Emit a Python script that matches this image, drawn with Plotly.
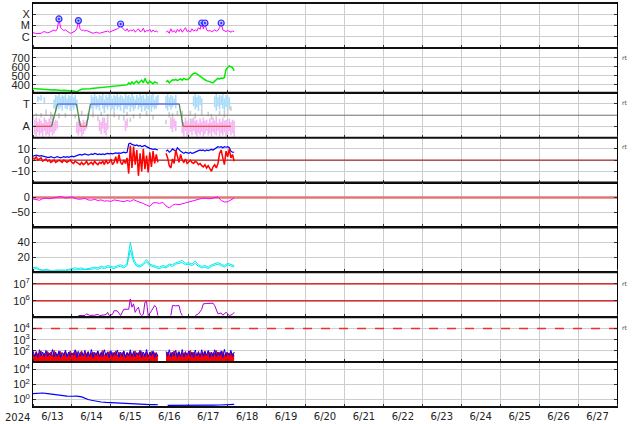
import plotly.graph_objects as go
from plotly.subplots import make_subplots
import pandas as pd

# ---------------- data (hours after 2024-06-13 00:00) ----------------
T0 = pd.Timestamp("2024-06-13 00:00")
YEAR_LABEL = "2024"
DAY_LABELS = ["6/13", "6/14", "6/15", "6/16", "6/17", "6/18", "6/19", "6/20",
              "6/21", "6/22", "6/23", "6/24", "6/25", "6/26", "6/27"]

# X-ray flux, log10 W/m2 (hourly), two segments
xray_log_a = [-5.64, -5.70, -5.73, -5.72, -5.74, -5.70, -5.60, -5.55, -5.60, -5.66,
              -5.62, -5.55, -5.45, -5.40, -5.50, -5.30, -4.42, -5.20, -5.35, -5.45,
              -5.40, -5.50, -5.60, -5.70, -5.65, -5.60, -5.50, -5.30, -4.57, -5.30,
              -5.45, -5.40, -5.50, -5.45, -5.50, -5.55, -5.60, -5.70, -5.65, -5.60,
              -5.65, -5.70, -5.65, -5.60, -5.60, -5.55, -5.50, -5.60, -5.55, -5.50,
              -5.45, -5.40, -5.30, -5.20, -4.87, -5.20, -5.35, -5.50, -5.30, -5.55,
              -5.40, -5.50, -5.35, -5.60, -5.45, -5.30, -5.55, -5.50, -5.25, -5.60,
              -5.45, -5.50, -5.35, -5.60, -5.40, -5.55, -5.50, -5.60]
xray_log_b = [-5.60, -5.50, -5.70, -5.30, -5.60, -5.45, -5.65, -5.35,
              -5.55, -5.30, -5.60, -5.40, -5.20, -5.55, -5.45, -5.60, -5.30, -5.50,
              -5.40, -5.50, -5.20, -5.35, -4.78, -5.30, -4.78, -5.40, -5.50, -5.45,
              -5.55, -5.50, -5.40, -5.50, -5.45, -5.20, -4.78, -5.40, -5.50, -5.55,
              -5.45, -5.50, -5.60, -5.50, -5.55]
flare_hours = [16, 28, 54, 104, 106, 116]
flare_log = [-4.42, -4.57, -4.87, -4.78, -4.78, -4.78]

# solar wind speed km/s (hourly)
speed_a = [358, 356, 355, 352, 350, 348, 347, 346, 345, 344,
           343, 342, 341, 343, 340, 338, 339, 337, 336, 338,
           335, 334, 333, 332, 330, 331, 325, 318, 335, 345,
           350, 352, 355, 354, 357, 356, 358, 360, 362, 360,
           365, 368, 370, 372, 375, 373, 378, 380, 382, 380,
           385, 388, 386, 390, 388, 392, 395, 393, 398, 420,
           405, 430, 410, 425, 440, 415, 430, 450, 420, 470,
           430, 415, 440, 425, 410, 430, 420, 415]
speed_b = [430, 445, 420, 440, 455, 450, 460, 445, 455, 465,
           450, 470, 460, 455, 465, 490, 510, 525, 530, 520,
           505, 490, 480, 465, 455, 445, 440, 430, 425, 420,
           440, 460, 470, 465, 475, 470, 480, 570, 595, 610,
           600, 590, 555]

# sector polarity (T=+0.5, A=-0.5)
sector_hours = [0, 11.4, 15.1, 26.8, 29.2, 32.9, 35.4, 90.1, 92.6, 122]
sector_vals = [-0.5, -0.5, 0.5, 0.5, -0.5, -0.5, 0.5, 0.5, -0.5, -0.5]
# scatter clouds as (hour, low, high)
toward_streaks = [(3, 0.60, 0.85), (4, 0.70, 0.80), (5, 0.65, 0.90), (7, 0.55, 0.80),
                  (13, 0.30, 0.70), (14, 0.20, 0.90), (15, 0.40, 0.85), (16, 0.25, 0.95),
                  (17, 0.35, 0.80), (18, 0.20, 0.90), (19, 0.45, 0.85), (20, 0.30, 0.95),
                  (21, 0.25, 0.75), (22, 0.40, 0.90), (23, 0.20, 0.85), (24, 0.35, 0.95),
                  (25, 0.25, 0.80), (26, 0.40, 0.90), (27, 0.30, 0.70),
                  (36, 0.30, 0.90), (37, 0.15, 0.80), (38, 0.40, 0.95), (39, 0.25, 0.85),
                  (40, 0.35, 0.75), (41, 0.20, 0.90), (42, 0.45, 0.85), (43, 0.30, 0.95),
                  (44, 0.10, 0.70), (45, 0.35, 0.90), (46, 0.25, 0.80), (47, 0.40, 0.95),
                  (48, 0.20, 0.85), (49, 0.30, 0.75), (50, 0.15, 0.90), (51, 0.40, 0.85),
                  (52, 0.25, 0.95), (53, 0.35, 0.80), (54, 0.20, 0.90), (55, 0.45, 0.85),
                  (56, 0.10, 0.75), (57, 0.30, 0.95), (58, 0.25, 0.85), (59, 0.40, 0.90),
                  (60, 0.15, 0.80), (61, 0.35, 0.95), (62, 0.20, 0.85), (63, 0.30, 0.70),
                  (64, 0.45, 0.90), (65, 0.25, 0.80), (66, 0.35, 0.95), (67, 0.15, 0.85),
                  (68, 0.40, 0.90), (69, 0.20, 0.75), (70, 0.30, 0.95), (71, 0.25, 0.85),
                  (72, 0.40, 0.80), (73, 0.15, 0.90), (74, 0.35, 0.95), (75, 0.25, 0.70),
                  (76, 0.30, 0.85), (77, 0.45, 0.90),
                  (82, 0.30, 0.85), (83, 0.20, 0.95), (84, 0.40, 0.80), (85, 0.25, 0.90),
                  (86, 0.35, 0.85), (87, 0.45, 0.75), (88, 0.30, 0.90),
                  (99, 0.40, 0.85), (100, 0.25, 0.95), (101, 0.35, 0.80), (102, 0.20, 0.90),
                  (103, 0.45, 0.85), (104, 0.30, 0.75),
                  (112, 0.35, 0.85), (113, 0.20, 0.95), (114, 0.40, 0.80), (115, 0.25, 0.90),
                  (116, 0.45, 0.85), (117, 0.30, 0.95), (118, 0.20, 0.75), (119, 0.35, 0.90),
                  (120, 0.40, 0.85), (121, 0.25, 0.80)]
away_streaks = [(1, -0.85, -0.20), (2, -0.95, -0.10), (3, -0.75, -0.30), (4, -0.90, -0.15),
                (5, -0.80, -0.25), (6, -0.95, -0.35), (7, -0.70, -0.10), (8, -0.90, -0.20),
                (9, -0.85, -0.30), (10, -0.95, -0.15), (11, -0.75, -0.25), (12, -0.90, -0.10),
                (13, -0.80, -0.30), (14, -0.70, -0.20), (15, -0.60, -0.25),
                (27, -0.80, -0.30), (28, -0.90, -0.15), (29, -0.75, -0.25), (30, -0.95, -0.35),
                (31, -0.85, -0.20), (32, -0.70, -0.30), (33, -0.60, -0.20),
                (41, -0.70, -0.20), (42, -0.85, -0.30), (43, -0.60, -0.10), (44, -0.80, -0.25),
                (45, -0.90, -0.35), (46, -0.65, -0.20), (57, -0.70, -0.25), (58, -0.55, -0.15),
                (85, -0.60, -0.10), (86, -0.75, -0.20), (87, -0.55, -0.15), (88, -0.70, -0.25),
                (92, -0.80, -0.20), (93, -0.95, -0.30), (94, -0.70, -0.10), (95, -0.85, -0.25),
                (96, -0.95, -0.35), (97, -0.75, -0.15), (98, -0.90, -0.30), (99, -0.70, -0.10),
                (100, -0.85, -0.25), (101, -0.95, -0.20), (102, -0.80, -0.35), (103, -0.90, -0.15),
                (104, -0.75, -0.30), (105, -0.95, -0.10), (106, -0.85, -0.25), (107, -0.70, -0.20),
                (108, -0.90, -0.35), (109, -0.80, -0.15), (110, -0.95, -0.30), (111, -0.75, -0.10),
                (112, -0.85, -0.25), (113, -0.90, -0.20), (114, -0.70, -0.35), (115, -0.95, -0.15),
                (116, -0.80, -0.30), (117, -0.90, -0.10), (118, -0.75, -0.25), (119, -0.95, -0.20),
                (120, -0.85, -0.35), (121, -0.70, -0.15), (122, -0.90, -0.30), (123, -0.80, -0.20),
                (124, -0.95, -0.25)]
mixed_streaks = [(0, -0.20, 0.00), (2, -0.05, 0.10), (5, -0.10, 0.10), (8, 0.00, 0.25),
                 (11, -0.20, 0.15), (12, -0.10, 0.05), (16, -0.15, 0.10), (20, -0.10, 0.10),
                 (26, -0.15, 0.05), (30, 0.00, 0.20), (34, -0.20, 0.10), (37, -0.10, 0.15),
                 (40, -0.25, -0.05), (42, -0.05, 0.15), (44, -0.35, -0.10), (46, -0.20, 0.05),
                 (50, -0.10, 0.15), (53, -0.20, 0.00), (56, -0.25, 0.00), (58, -0.05, 0.15),
                 (60, -0.30, -0.10), (62, -0.15, 0.05), (66, -0.15, 0.10), (70, -0.05, 0.20),
                 (74, -0.20, 0.00), (82, -0.40, -0.20), (84, -0.10, 0.15), (86, -0.20, 0.10),
                 (89, 0.00, 0.20), (92, -0.10, 0.20), (95, -0.95, -0.80), (97, 0.00, 0.20),
                 (98, -0.35, -0.15), (100, -0.15, 0.10), (104, 0.00, 0.30), (108, -0.05, 0.15),
                 (110, -0.20, 0.05), (113, -0.25, -0.05), (115, 0.00, 0.20), (118, -0.10, 0.20),
                 (120, 0.05, 0.30), (122, 0.20, 0.40)]

# IMF Bt and Bz, nT (hourly)
bt_a = [3.5, 4, 4.5, 4, 3.5, 4, 3.5, 3, 3,
        2.5, 2.5, 3, 2.5, 2, 2.5, 3, 2.5, 2, 2.5, 3, 2.5, 3, 2.5, 3, 3.5, 3, 3.5, 4,
        4.5, 5, 4.5, 5, 5.5, 5, 4.5, 5, 5.5, 5, 6, 5.5, 5, 5.5,
        5, 5.5, 5, 5.5, 6, 5.5, 6, 5.5, 6, 6.5, 6, 6.5, 6, 6.5, 7, 6.5, 7,
        14.5, 15, 14, 13.5, 13, 13.5, 12.5, 13, 12, 12.5, 13, 12, 11, 10.5, 10, 9.5, 10, 9.5, 9]
bt_b = [8, 9, 7, 8, 10, 9, 8, 11, 9, 8,
        7, 6, 7, 6.5, 6, 7, 6, 6.5, 7, 8,
        8.5, 9, 8.5, 9, 8, 9, 8.5, 9, 9.5, 9,
        10, 11, 12, 11.5, 12, 11, 12, 11.5, 12, 11,
        8, 7, 7]
bz_a = [2, 1, 3, 0, 1, 2, -1, 0, 1,
        -1, 0, -2, -1, 0, -2, -1, 0, -1, -2, 0, -1, -2, -1, 0, -2, -3, -1, -2,
        -3, -4, -2, -4, -3, -1, -4, -3, -2, -4, -1, -3, -4, -2,
        -3, -1, -4, 0, -3, -2, 1, -4, -2, 3, -3, 5, -2, -4, 0, -3, 2,
        -12, 13, -7, 12, -4, 9, -14, 6, -10, 10, -8, 4, -11, 7, -6, 8, -3, 5, -2]
bz_b = [6, 2, -5, -7, 1, -3, 9, 3, -2, 5,
        0, -2, 1, -3, -1, 0, -2, -3, -1, -2,
        -4, -3, -5, -6, -4, -7, -5, -8, -10, -6,
        -4, -7, -3, 6, 9, 2, -4, 8, 3, 10,
        2, 5, -1]

# Dst index, nT (every 2 h from hour 0)
dst_vals = [-5, -7, -9, -4, -2, -4, -1, 0, 2, 3, -2, 1, 2, -3, -6, -5, -3, -8, -9, -6,
            -10, -8, -12, -11, -13, -8, -9, -12, -14, -10, -13, -7, -12, -15, -20, -25,
            -30, -18, -17, -20, -16, -28, -35, -26, -22, -24, -20, -18, -15, -12, -10,
            -5, -3, -2, -4, -3, 0, 2, -10, -15, -14, -8, -2]

# cyan index, two traces (every 2 h from hour 0)
cyan1_vals = [6, 7, 4, 3, 4, 3, 2, 3, 3, 2, 3, 4, 5, 6, 5, 6, 4, 5, 6, 7, 6, 8, 7, 9, 8,
              7, 9, 10, 8, 12, 40, 18, 10, 9, 12, 17, 11, 9, 8, 7, 9, 8, 11, 10, 13, 14,
              16, 12, 13, 11, 15, 10, 8, 9, 7, 10, 12, 13, 11, 9, 12, 10, 9]
cyan2_vals = [4, 5, 3, 2, 2, 2, 1, 2, 2, 1, 2, 3, 3, 4, 4, 4, 3, 3, 4, 5, 4, 6, 5, 7, 6,
              5, 7, 8, 6, 9, 30, 14, 8, 7, 10, 14, 9, 7, 6, 5, 7, 6, 9, 8, 11, 12,
              13, 10, 11, 9, 12, 8, 6, 7, 5, 8, 10, 11, 9, 7, 10, 8, 7]

# purple (log10) three segments
purple_h_a = [28, 30, 32, 33, 35, 38, 40, 41, 43, 45, 46, 47, 49, 50, 52, 54, 56, 58, 59, 60,
              61, 62, 63, 64, 65, 66, 67, 68, 69, 70, 71, 73, 75, 76, 77]
purple_v_a = [5.13, 5.15, 5.13, 5.23, 5.14, 5.15, 5.20, 5.13, 5.16, 5.18, 5.32, 5.13, 5.20,
              5.42, 5.40, 5.13, 5.50, 5.52, 5.50, 6.11, 5.62, 5.82, 5.32, 5.50, 5.62, 5.23,
              5.14, 5.20, 5.91, 5.95, 5.13, 5.40, 5.72, 5.60, 5.13]
purple_h_b = [85, 86, 88, 90, 91, 92]
purple_v_b = [5.13, 5.72, 5.70, 5.72, 5.32, 5.13]
purple_h_c = [100, 102, 104, 105, 107, 109, 111, 112, 113, 114, 116, 117, 119, 121, 123, 124]
purple_v_c = [5.13, 5.23, 5.50, 5.82, 5.84, 5.83, 5.86, 5.72, 5.50, 5.23, 5.28, 5.15, 5.32,
              5.13, 5.20, 5.32]

# particle flux (log10), hourly: red band top, blue trace
red_a = [1.75, 1.55, 1.95, 1.60, 1.85, 2.00, 1.50, 1.80, 1.65, 1.95,
         1.70, 1.90, 1.55, 2.05, 1.75, 1.60, 1.85, 1.95, 1.50, 1.80,
         1.90, 1.65, 1.75, 2.00, 1.55, 1.85, 1.70, 1.95, 1.60, 1.80,
         2.00, 1.55, 1.85, 1.70, 1.95, 1.50, 1.80, 1.90, 1.65, 1.75,
         1.95, 1.60, 1.85, 2.05, 1.55, 1.80, 1.70, 1.95, 1.60, 1.85,
         1.75, 2.00, 1.55, 1.90, 1.65, 1.80, 1.95, 1.50, 1.85, 1.70,
         1.90, 1.60, 1.80, 2.00, 1.55, 1.85, 1.75, 1.95, 1.60, 1.80,
         1.90, 1.55, 1.75, 1.95, 1.65, 1.85, 1.70, 1.60]
blue_a = [2.0, 1.5, 1.85, 1.4, 2.1, 1.55, 1.9, 1.45, 2.05, 1.5,
          1.8, 1.6, 2.12, 1.45, 1.88, 1.5, 2.0, 1.4, 1.85, 1.55,
          2.08, 1.45, 1.9, 1.5, 1.82, 1.6, 2.1, 1.4, 1.95, 1.5,
          1.85, 1.55, 2.05, 1.45, 1.9, 1.5, 2.12, 1.4, 1.88, 1.6,
          2.0, 1.45, 1.85, 1.5, 2.1, 1.55, 1.92, 1.4, 2.02, 1.5,
          1.86, 1.6, 2.08, 1.45, 1.9, 1.5, 2.0, 1.4, 1.85, 1.55,
          2.1, 1.45, 1.95, 1.5, 1.84, 1.6, 2.06, 1.4, 1.9, 1.5,
          2.12, 1.45, 1.88, 1.55, 2.0, 1.4, 1.85, 1.5]
red_b = [1.70, 1.90, 1.55, 1.85, 1.75, 2.00, 1.60, 1.80, 1.95, 1.55,
         1.85, 1.70, 1.95, 1.60, 1.80, 2.05, 1.55, 1.90, 1.75, 1.65,
         1.95, 1.60, 1.85, 1.75, 2.00, 1.55, 1.80, 1.90, 1.65, 1.85,
         1.75, 2.05, 1.60, 1.90, 1.70, 1.95, 1.55, 1.85, 1.80, 1.65,
         1.90, 1.75, 1.60]
blue_b = [1.95, 1.5, 2.1, 1.45, 1.88, 1.55, 2.05, 1.4, 1.9, 1.5,
          2.12, 1.45, 1.85, 1.6, 2.0, 1.5, 1.9, 1.4, 2.08, 1.55,
          1.85, 1.45, 2.1, 1.5, 1.92, 1.6, 2.04, 1.4, 1.88, 1.5,
          2.1, 1.45, 1.9, 1.55, 2.0, 1.4, 2.14, 1.5, 1.86, 1.6,
          2.05, 1.45, 1.9]

# bottom panel (log10), two segments
elec_h_a = [0, 3, 6, 9, 12, 15, 18, 21, 24, 27, 30, 32, 34, 36, 39, 42, 45, 48, 51, 54,
            57, 60, 63, 66, 69, 72, 75, 77]
elec_v_a = [0.80, 0.85, 0.87, 0.80, 0.70, 0.60, 0.50, 0.45, 0.44, 0.46, 0.35, 0.16, 0.0,
            -0.10, -0.25, -0.33, -0.38, -0.42, -0.47, -0.50, -0.55, -0.60, -0.64, -0.65,
            -0.67, -0.68, -0.69, -0.70]
elec_h_b = [83, 87, 91, 95, 99, 103, 107, 111, 115, 119, 121, 123, 124]
elec_v_b = [-0.77, -0.78, -0.77, -0.78, -0.77, -0.76, -0.75, -0.74, -0.73, -0.70, -0.62,
            -0.66, -0.65]

# ---------------- helpers ----------------
def hours_from(start, vals):
    return [start + i for i in range(len(vals))]


def to_time(hours):
    return [None if h is None else T0 + pd.Timedelta(hours=h) for h in hours]


def with_gap(h1, v1, h2, v2):
    return h1 + [(h1[-1] + h2[0]) / 2] + h2, list(v1) + [None] + list(v2)


def pow10(vals):
    return [None if v is None else 10 ** v for v in vals]


def streak_xy(streaks):
    xs, ys = [], []
    for hr, lo, hi in streaks:
        xs += [hr, hr, None]
        ys += [lo, hi, None]
    return xs, ys


X_START = T0
X_END = T0 + pd.Timedelta(days=15)
YFONT = dict(family="Liberation Sans", size=11, color="#222")
XFONT = dict(family="DejaVu Sans", size=10, color="#222")
GRID = "rgb(205,205,205)"

fig = make_subplots(rows=9, cols=1, shared_xaxes=True, vertical_spacing=0)


def hline(row, y, color, width=1, dash="solid"):
    fig.add_trace(go.Scatter(x=[X_START, X_END], y=[y, y], mode="lines",
                             line=dict(color=color, width=width, dash=dash),
                             hoverinfo="skip", showlegend=False), row=row, col=1)


# row 1 : X-ray
h, v = with_gap(hours_from(0, xray_log_a), xray_log_a, hours_from(82, xray_log_b), xray_log_b)
fig.add_trace(go.Scatter(x=to_time(h), y=pow10(v), mode="lines",
                         line=dict(color="rgb(255,0,255)", width=1)), row=1, col=1)
fig.add_trace(go.Scatter(x=to_time(flare_hours), y=pow10(flare_log), mode="markers",
                         marker=dict(symbol="circle-dot", size=6, color="rgba(190,190,255,0.9)",
                                     line=dict(color="rgb(40,40,255)", width=1.2))), row=1, col=1)

# row 2 : speed
h, v = with_gap(hours_from(0, speed_a), speed_a, hours_from(82, speed_b), speed_b)
fig.add_trace(go.Scatter(x=to_time(h), y=v, mode="lines",
                         line=dict(color="rgb(0,235,0)", width=1.5)), row=2, col=1)

# row 3 : sector
for streaks, col in [(mixed_streaks, "rgb(205,205,205)"), (away_streaks, "rgb(245,180,242)"),
                     (toward_streaks, "rgb(170,220,250)")]:
    sx, sy = streak_xy(streaks)
    fig.add_trace(go.Scatter(x=to_time(sx), y=sy, mode="lines", connectgaps=False,
                             line=dict(color=col, width=1.6)), row=3, col=1)
hline(3, 0, "rgb(110,110,110)", 1)
for i in range(len(sector_hours) - 1):
    a, b = sector_vals[i], sector_vals[i + 1]
    if a == b:
        col = "rgb(235,80,80)" if a < 0 else "rgb(110,110,235)"
    else:
        col = "rgb(70,140,70)"
    fig.add_trace(go.Scatter(x=to_time(sector_hours[i:i + 2]), y=[a, b], mode="lines",
                             line=dict(color=col, width=1.3)), row=3, col=1)

# row 4 : IMF
hline(4, 0, "rgb(160,0,0)", 1)
h, v = with_gap(hours_from(0, bt_a), bt_a, hours_from(82, bt_b), bt_b)
fig.add_trace(go.Scatter(x=to_time(h), y=v, mode="lines",
                         line=dict(color="rgb(0,0,255)", width=1.2)), row=4, col=1)
h, v = with_gap(hours_from(0, bz_a), bz_a, hours_from(82, bz_b), bz_b)
fig.add_trace(go.Scatter(x=to_time(h), y=v, mode="lines",
                         line=dict(color="rgb(255,0,0)", width=1.5)), row=4, col=1)

# row 5 : Dst
hline(5, 0, "rgb(225,120,120)", 2.5)
fig.add_trace(go.Scatter(x=to_time([2 * i for i in range(len(dst_vals))]), y=dst_vals,
                         mode="lines", line=dict(color="rgb(255,0,255)", width=1)), row=5, col=1)

# row 6 : cyan
for vals in (cyan1_vals, cyan2_vals):
    fig.add_trace(go.Scatter(x=to_time([2 * i for i in range(len(vals))]), y=vals,
                             mode="lines", line=dict(color="rgb(0,235,235)", width=1)),
                  row=6, col=1)

# row 7 : purple
hline(7, 1e7, "rgb(205,0,0)", 1.2)
hline(7, 1e6, "rgb(205,0,0)", 1.2)
h, v = with_gap(purple_h_a, purple_v_a, purple_h_b, purple_v_b)
h, v = with_gap(h, v, purple_h_c, purple_v_c)
fig.add_trace(go.Scatter(x=to_time(h), y=pow10(v), mode="lines",
                         line=dict(color="rgb(170,0,210)", width=1)), row=7, col=1)

# row 8 : particle flux
hline(8, 1e4, "rgb(230,50,50)", 1.5, "dash")
for seg_h, seg_v in [(hours_from(0, red_a), red_a), (hours_from(82, red_b), red_b)]:
    fig.add_trace(go.Scatter(x=to_time(seg_h), y=pow10(seg_v), mode="lines", fill="tozeroy",
                             fillcolor="rgb(255,0,0)", line=dict(color="rgb(255,0,0)", width=1)),
                  row=8, col=1)
h, v = with_gap(hours_from(0, blue_a), blue_a, hours_from(82, blue_b), blue_b)
fig.add_trace(go.Scatter(x=to_time(h), y=pow10(v), mode="lines",
                         line=dict(color="rgb(0,0,255)", width=1)), row=8, col=1)

# row 9 : bottom
h, v = with_gap(elec_h_a, elec_v_a, elec_h_b, elec_v_b)
fig.add_trace(go.Scatter(x=to_time(h), y=pow10(v), mode="lines",
                         line=dict(color="rgb(0,0,255)", width=1.2)), row=9, col=1)

# ---------------- axes ----------------
noons = [T0 + pd.Timedelta(hours=12 + 24 * i) for i in range(len(DAY_LABELS))]
fig.update_xaxes(type="date", range=[X_START, X_END], tickmode="array", tickvals=noons,
                 ticktext=DAY_LABELS, ticks="", showgrid=False, zeroline=False,
                 showline=True, mirror=True, linecolor="black", linewidth=1,
                 tickfont=XFONT, automargin=False,
                 minor=dict(dtick=86400000, tick0=T0, showgrid=True, gridcolor=GRID,
                            gridwidth=1, ticks="inside", ticklen=3, tickcolor="#333"))
fig.update_yaxes(showgrid=True, gridcolor=GRID, gridwidth=1, zeroline=False,
                 showline=True, mirror="ticks", linecolor="black", linewidth=1,
                 ticks="inside", ticklen=3, tickcolor="#333", tickfont=YFONT,
                 automargin=False)

sup = lambda e: f"10<sup>{e}</sup>"
fig.update_yaxes(row=1, col=1, type="log", range=[-7, -3], tickmode="array",
                 tickvals=[1e-4, 1e-5, 1e-6], ticktext=["X", "M", "C"])
fig.update_yaxes(row=2, col=1, range=[310, 810], tickmode="array",
                 tickvals=[400, 500, 600, 700], ticktext=["400", "500", "600", "700"])
fig.update_yaxes(row=3, col=1, range=[-1, 1], tickmode="array",
                 tickvals=[0.5, -0.5], ticktext=["T", "A"])
fig.update_yaxes(row=4, col=1, range=[-20, 20], tickmode="array",
                 tickvals=[10, 0, -10], ticktext=["10", "0", "\u221210"])
fig.update_yaxes(row=5, col=1, range=[-100, 50], tickmode="array",
                 tickvals=[0, -50], ticktext=["0", "\u221250"])
fig.update_yaxes(row=6, col=1, range=[0, 60], tickmode="array",
                 tickvals=[20, 40], ticktext=["20", "40"])
fig.update_yaxes(row=7, col=1, type="log", range=[5.03, 7.68], tickmode="array",
                 tickvals=[1e6, 1e7], ticktext=[sup(6), sup(7)])
fig.update_yaxes(row=8, col=1, type="log", range=[1, 5], tickmode="array",
                 tickvals=[1e2, 1e3, 1e4], ticktext=[sup(2), sup(3), sup(4)])
fig.update_yaxes(row=9, col=1, type="log", range=[-1, 5], tickmode="array",
                 tickvals=[1, 1e2, 1e4], ticktext=[sup(0), sup(2), sup(4)])

# panel separators
shapes = []
for k in range(10):
    shapes.append(dict(type="line", xref="paper", yref="paper", x0=0, x1=1, y0=k / 9, y1=k / 9,
                       line=dict(color="#111", width=2)))

annotations = [dict(text=YEAR_LABEL, xref="paper", yref="paper", x=-0.027, y=-0.025,
                    xanchor="center", yanchor="middle", showarrow=False, font=XFONT)]
for ypx in [57, 102, 146, 283, 327]:
    annotations.append(dict(text="rt", xref="paper", yref="paper", x=1.005,
                            y=(406.7 - ypx) / 404, xanchor="left", yanchor="middle",
                            showarrow=False, font=dict(family="DejaVu Sans", size=6, color="#444")))

fig.update_layout(width=634, height=424, margin=dict(l=33, r=17, t=3, b=17),
                  paper_bgcolor="white", plot_bgcolor="white", showlegend=False,
                  shapes=shapes, annotations=annotations)

fig.write_html("out.html", config={"displayModeBar": False},
               post_script="document.body.style.margin='0';")
